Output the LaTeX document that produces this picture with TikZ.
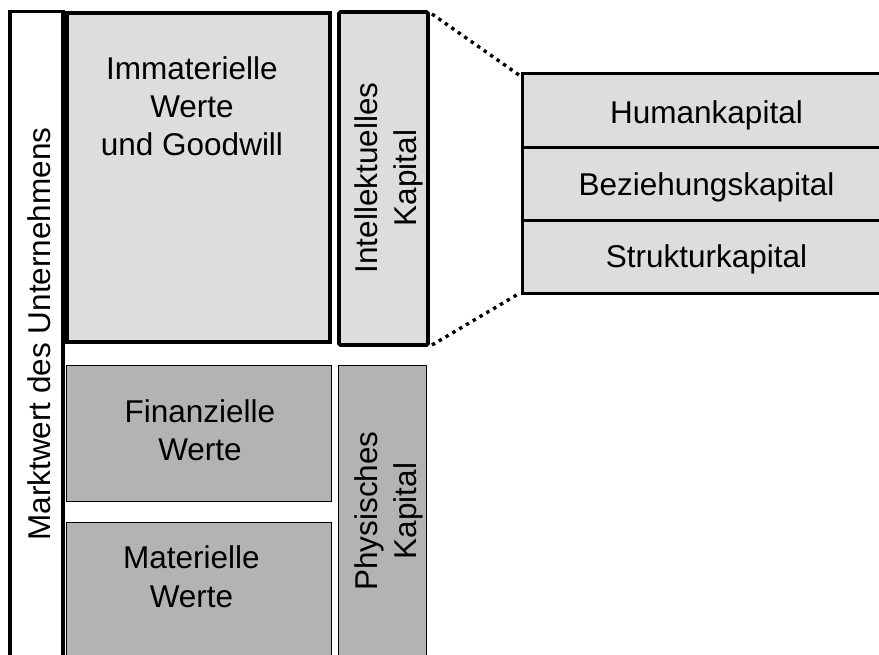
\documentclass[tikz,border=0pt]{standalone}
\usepackage{fontspec}
\setmainfont{Liberation Sans}
\begin{document}
\begin{tikzpicture}[x=1pt,y=-1pt,
  box/.style={draw=black,rectangle,inner sep=0pt,outer sep=0pt,anchor=north west},
  thickbox/.style={box,line width=3.6pt},
  thinbox/.style={box,line width=1pt},
  lightfill/.style={fill=light},
  darkfill/.style={fill=dark},
  lbl/.style={inner sep=0pt,anchor=base,font=\fontsize{31.5}{38}\selectfont},
  vlbl/.style={lbl,rotate=90},
  zoomline/.style={line width=3.4pt,dash pattern=on 3.4pt off 4.5pt}
]
\definecolor{light}{RGB}{221,221,221}
\definecolor{dark}{RGB}{179,179,179}
\clip (0,0) rectangle (879,654);
\fill[white] (0,0) rectangle (879,654);

% market value column
\node[thickbox,fill=white,minimum width=53pt,minimum height=700pt] (markt) at (10,11.5) {};
\node[vlbl] (marktlbl) at (50,334) {Marktwert des Unternehmens};

% intangible assets
\node[thickbox,lightfill,minimum width=263pt,minimum height=329pt] (immat) at (67,13) {};
\node[lbl] (im1) at (192,79) {Immaterielle};
\node[lbl] (im2) at (192,117) {Werte};
\node[lbl] (im3) at (192,155) {und Goodwill};

% intellectual capital
\node[thickbox,lightfill,rounded corners=1.5pt,minimum width=89pt,minimum height=333pt] (intel) at (339,12) {};
\node[vlbl] (intel1) at (377,178) {Intellektuelles};
\node[vlbl] (intel2) at (416,178) {Kapital};

% financial and tangible assets
\node[thinbox,darkfill,minimum width=265pt,minimum height=136pt] (finanz) at (66,365) {};
\node[lbl] (fi1) at (200,422) {Finanzielle};
\node[lbl] (fi2) at (200,460) {Werte};

\node[thinbox,darkfill,minimum width=265pt,minimum height=200pt] (mater) at (66,522) {};
\node[lbl] (ma1) at (191.5,568) {Materielle};
\node[lbl] (ma2) at (191.5,607) {Werte};

% physical capital
\node[thinbox,darkfill,minimum width=88pt,minimum height=340pt] (phys) at (338,365) {};
\node[vlbl] (ph1) at (377,511) {Physisches};
\node[vlbl] (ph2) at (416,511) {Kapital};

% components of intellectual capital
\node[box,line width=3pt,lightfill,minimum width=380pt,minimum height=74pt] (human) at (522,73) {};
\node[box,line width=3pt,lightfill,minimum width=380pt,minimum height=73pt] (bez) at (522,147) {};
\node[box,line width=3pt,lightfill,minimum width=380pt,minimum height=73pt] (struk) at (522,220) {};
\node[lbl] (hu) at (706.5,123) {Humankapital};
\node[lbl] (be) at (706.5,195) {Beziehungskapital};
\node[lbl] (st) at (706.5,267) {Strukturkapital};

% zoom lines
\draw[zoomline] ([xshift=4pt,yshift=-2pt]intel.north east) -- ([xshift=-3pt,yshift=-2pt]human.north west);
\draw[zoomline] ([xshift=4pt]intel.south east) -- ([xshift=-2pt]struk.south west);
\end{tikzpicture}
\end{document}
